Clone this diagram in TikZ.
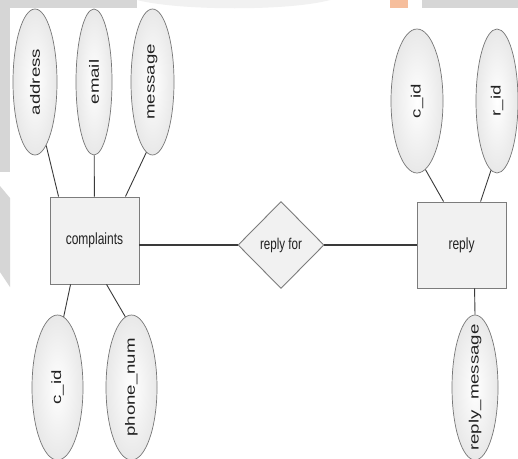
\documentclass[tikz,border=0pt]{standalone}
\usepackage{fontspec}
\setmainfont{Liberation Sans}
\usepackage{graphicx}
\usetikzlibrary{shapes.geometric}

\definecolor{edgegray}{HTML}{767676}
\definecolor{boxedge}{HTML}{7C7C7C}
\definecolor{boxfill}{HTML}{F1F1F1}
\definecolor{linkcol}{HTML}{3A3A3A}
\definecolor{txt}{HTML}{222222}
\definecolor{wmgray}{HTML}{D6D6D6}
\definecolor{wmlight}{HTML}{F1F1F1}
\definecolor{wmorange}{HTML}{F6BE9C}

% upright label stretched along its length, turned to read bottom-up
\newcommand\vtext[1]{\rotatebox{90}{\makebox[0pt]{\scalebox{1.38}[1]{#1}}}}
% horizontal label stretched vertically
\newcommand\htext[1]{\scalebox{1}[1.35]{#1}}

\begin{document}
\begin{tikzpicture}[x=1pt,y=-1pt,
  attr/.style={ellipse, draw=edgegray, line width=0.7pt,
    inner color=white, outer color=black!9, inner sep=0pt,
    text=txt, font=\fontsize{13.5}{16}\selectfont},
  entity/.style={rectangle, draw=boxedge, line width=0.9pt, fill=boxfill,
    minimum width=89pt, minimum height=87pt, inner sep=0pt,
    text=txt, font=\fontsize{12}{14}\selectfont},
  relation/.style={diamond, draw=boxedge, line width=0.9pt, fill=boxfill,
    minimum width=86pt, minimum height=87pt, inner sep=0pt,
    text=txt, font=\fontsize{11.6}{14}\selectfont},
  link/.style={draw=linkcol, line width=0.9pt},
  rellink/.style={draw=linkcol, line width=1.2pt}]

\useasboundingbox (0,0) rectangle (518,458);
\fill[white] (0,0) rectangle (518,458);

% faint watermark remnants along the edges
\fill[wmgray] (0,0) rectangle (137,8);
\fill[wmgray] (0,8) rectangle (10,172);
\fill[wmgray] (0,186) -- (10,198) -- (10,287) -- (0,272) -- cycle;
\fill[wmlight] (137,0) .. controls (180,11) and (290,11) .. (330,0) -- cycle;
\fill[wmorange] (390,0) rectangle (408,8);
\fill[wmgray] (422,0) rectangle (518,8);

% complaints entity and its attributes
\node[attr, minimum width=44pt, minimum height=146pt] (address) at (35,82) {\vtext{address}};
\node[attr, minimum width=36pt, minimum height=146pt] (email) at (94,82) {\vtext{email}};
\node[attr, minimum width=43pt, minimum height=146pt] (message) at (152.5,82) {\vtext{message}};
\node[entity] (complaints) at (94.5,240.5) {\htext{complaints}};
\node[attr, minimum width=51pt, minimum height=145pt] (cid) at (57.5,387.5) {\vtext{c\_id}};
\node[attr, minimum width=51pt, minimum height=145pt] (phone) at (131.5,387.5) {\vtext{phone\_num}};

% relationship
\node[relation] (replyfor) at (281,245) {\htext{reply for}};

% reply entity and its attributes
\node[entity, minimum height=86pt] (reply) at (461.5,245) {\htext{reply}};
\node[attr, minimum width=52pt, minimum height=144pt] (rcid) at (417,101) {\vtext{c\_id}};
\node[attr, minimum width=42pt, minimum height=144pt] (rid) at (497,101) {\vtext{r\_id}};
\node[attr, minimum width=46pt, minimum height=145pt] (rmsg) at (475,387.5) {\vtext{reply\_message}};

% attribute links
\draw[link] (address.-80) -- ([xshift=9pt]complaints.north west);
\draw[link] (email) -- (complaints);
\draw[link] (message.-95) -- ([xshift=-14pt]complaints.north east);
\draw[link] ([xshift=21pt]complaints.south west) -- (cid.85);
\draw[link] ([xshift=57pt]complaints.south west) -- (phone.95);
\draw[link] (rcid.-83) -- ([xshift=27pt]reply.north west);
\draw[link] (rid.-95) -- ([xshift=64pt]reply.north west);
\draw[link] ([xshift=58pt]reply.south west) -- (rmsg.north);

% relationship links
\draw[rellink] (replyfor.west -| complaints.east) -- (replyfor.west);
\draw[rellink] (replyfor.east) -- (replyfor.east -| reply.west);
\end{tikzpicture}
\end{document}
